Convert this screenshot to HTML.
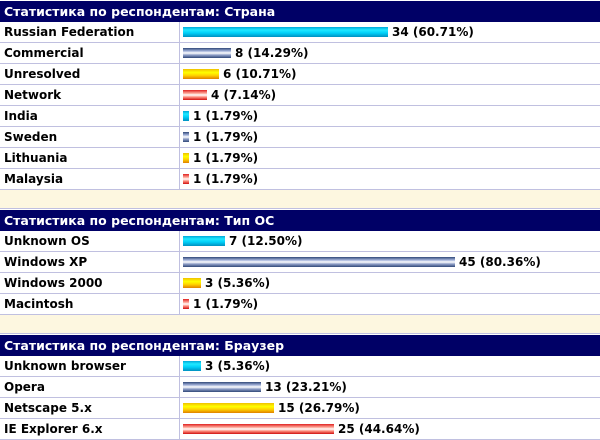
<!DOCTYPE html>
<html><head><meta charset="utf-8"><style>
body{margin:0;width:600px;height:440px;background:#fff;overflow:hidden;position:relative;font-family:"DejaVu Sans","Liberation Sans",sans-serif;font-weight:bold;font-size:12px;color:#000}
.hdr{position:absolute;left:0;width:600px;height:21px;background:#000066;color:#fff;line-height:21px;text-indent:4px;font-size:12.5px}
.gap{position:absolute;left:0;width:600px;height:20px;background:#fdf7e0;border-top:1px solid #c0c0e0;border-bottom:1px solid #c0c0e0;box-sizing:border-box}
.row{position:absolute;left:0;width:600px;height:21px;border-bottom:1px solid #c0c0e0;box-sizing:border-box}
.lbl{position:absolute;left:0;top:0;width:180px;height:20px;line-height:20px;padding-left:4px;box-sizing:border-box;border-right:1px solid #c0c0e0}
.bar{position:absolute;left:183px;top:5px;height:10px}
.val{position:absolute;top:0;line-height:20px;white-space:nowrap}
.c0{background:linear-gradient(#00a8d8,#20e8ff 30%,#00d0f8 60%,#0090c0)}
.c1{background:linear-gradient(#304878,#a0b0d8 30%,#ffffff 50%,#90a0c8 70%,#304878)}
.c2{background:linear-gradient(#f0c000,#ffff00 35%,#ffd000 65%,#e08000)}
.c3{background:linear-gradient(#e02020,#ffb0a0 35%,#ffffff 50%,#ff9080 70%,#d01010)}
</style></head><body>
<script>
const titles=["Статистика по респондентам: Страна","Статистика по респондентам: Тип ОС","Статистика по респондентам: Браузер"];
const labels1=["Russian Federation","Commercial","Unresolved","Network","India","Sweden","Lithuania","Malaysia"];
const counts1=[34,8,6,4,1,1,1,1];
const pcts1=[60.71,14.29,10.71,7.14,1.79,1.79,1.79,1.79];
const labels2=["Unknown OS","Windows XP","Windows 2000","Macintosh"];
const counts2=[7,45,3,1];
const pcts2=[12.50,80.36,5.36,1.79];
const labels3=["Unknown browser","Opera","Netscape 5.x","IE Explorer 6.x"];
const counts3=[3,13,15,25];
const pcts3=[5.36,23.21,26.79,44.64];
const groups=[[labels1,counts1,pcts1],[labels2,counts2,pcts2],[labels3,counts3,pcts3]];
const pxPerPct=3.38;
let y=1;
groups.forEach((g,gi)=>{
  const h=document.createElement('div');h.className='hdr';h.style.top=y+'px';h.textContent=titles[gi];
  
  
  document.body.appendChild(h);y+=21;
  g[0].forEach((l,i)=>{
    const r=document.createElement('div');r.className='row';r.style.top=y+'px';
    
    
    const lb=document.createElement('div');lb.className='lbl';lb.textContent=l;
    
    
    const w=Math.max(4,Math.round(g[2][i]*pxPerPct));
    const b=document.createElement('div');b.className='bar c'+(i%4);b.style.width=w+'px';
    
    
    const v=document.createElement('div');v.className='val';v.style.left=(183+w+4)+'px';
    v.textContent=g[1][i]+' ('+g[2][i].toFixed(2)+'%)';
    
    
    r.appendChild(lb);r.appendChild(b);r.appendChild(v);document.body.appendChild(r);y+=21;
  });
  if(gi<2){const gp=document.createElement('div');gp.className='gap';gp.style.top=(y-1)+'px';
    
    
    document.body.appendChild(gp);y+=20;}
});
</script>
</body></html>
